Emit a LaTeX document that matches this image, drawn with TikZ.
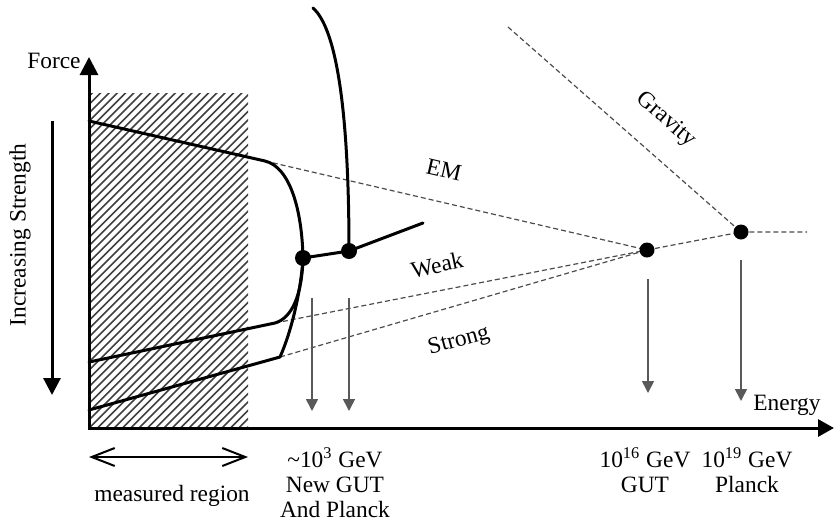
\documentclass[tikz,border=0pt]{standalone}
\usepackage{fontspec}
\setmainfont{Liberation Serif}
\usetikzlibrary{arrows.meta}

\begin{document}
\begin{tikzpicture}[x=0.5pt,y=-0.5pt,
  lbl/.style={inner sep=0pt,font=\fontsize{11.7}{12.5}\selectfont},
  curve/.style={line width=1.5pt,line join=round,line cap=round},
  extrap/.style={line width=0.6pt,black!70,dash pattern=on 2.5pt off 1.5pt},
  scaleline/.style={line width=0.8pt,black!65,-{Triangle[width=6pt,length=6pt]}},
  dot/.style={circle,fill,inner sep=0pt,minimum size=8pt}]

  \useasboundingbox (0,0) rectangle (836,521);

  % measured region
  \begin{scope}
    \clip (89,93) rectangle (248,428);
    \foreach \i in {0,...,62}
      \draw[line width=0.8pt,black!75] (89-340+\i*8.3,428) -- ++(340,-340);
  \end{scope}

  % axes
  \coordinate (O) at (89,428);
  \coordinate (ytop) at (89,57);
  \coordinate (xend) at (834,428);
  \draw[line width=1.5pt,{Triangle[width=9pt,length=9pt]}-{Triangle[width=8.5pt,length=8pt]}]
    (ytop) -- (O) -- (xend);
  \node[lbl,anchor=east] (force) at (81,61) {Force};
  \node[lbl] (energy) at (787,405) {Energy};

  \coordinate (istart) at (52,121);
  \coordinate (iend) at (52,395);
  \draw[line width=1.5pt,-{Triangle[width=8.5pt,length=8.5pt]}] (istart) -- (iend);
  \node[lbl,rotate=90] (incr) at (20,235) {Increasing Strength};

  % running couplings
  \coordinate (emA) at (89,121);
  \coordinate (emB) at (265,161);
  \coordinate (wkA) at (89,362);
  \coordinate (wkB) at (275,323);
  \coordinate (stA) at (89,410);
  \coordinate (stB) at (280,357);
  \coordinate (plow) at (303,258);
  \coordinate (pnew) at (349,251);
  \coordinate (pweak) at (423,223);
  \coordinate (ptop) at (313,8);
  \coordinate (pgut) at (647,250);
  \coordinate (pplanck) at (741,232);
  \coordinate (pend) at (807,232);
  \coordinate (pgrav) at (508,27);

  \draw[extrap] (emB) -- (pgut);
  \draw[extrap] (wkB) -- (pgut);
  \draw[extrap] (stB) -- (pgut);
  \draw[extrap] (pgut) -- (pplanck) -- (pend);
  \draw[extrap] (pgrav) -- (pplanck);

  \draw[curve] (emA) -- (emB) .. controls (290,167) and (302,210) .. (plow);
  \draw[curve] (wkA) -- (wkB) .. controls (292,318) and (302,295) .. (plow);
  \draw[curve] (stA) -- (stB) .. controls (292,330) and (301,290) .. (plow);
  \draw[curve] (plow) -- (pnew) -- (pweak);
  \draw[curve] (pnew) .. controls (349,120) and (338,30) .. (ptop);

  \node[dot] (lowdot) at (plow) {};
  \node[dot] (newdot) at (pnew) {};
  \node[dot,minimum size=7.5pt] (gutdot) at (pgut) {};
  \node[dot,minimum size=7.5pt] (pldot) at (pplanck) {};

  \node[lbl,rotate=-13] (em) at (444,170) {EM};
  \node[lbl,rotate=12] (weak) at (437,265) {Weak};
  \node[lbl,rotate=15] (strong) at (459,341) {Strong};
  \node[lbl,rotate=-41] (grav) at (666,120) {Gravity};

  % energy scales
  \foreach \n/\x/\y in {a/312/298, b/349/298, c/648/279, d/741/260} {
    \coordinate (s\n) at (\x,\y);
    \coordinate (e\n) at (\x,411);
  }
  \coordinate (ec) at (648,393);
  \coordinate (ed) at (741,401);
  \foreach \n in {a,b,c,d}
    \draw[scaleline] (s\n) -- (e\n);

  \coordinate (mrL) at (89,457);
  \coordinate (mrR) at (248,457);
  \draw[line width=1pt,{Straight Barb[width=9pt,length=11.5pt]}-{Straight Barb[width=9pt,length=11.5pt]}]
    (mrL) -- (mrR);
  \node[lbl] (mreg) at (172,496) {measured region};

  \node[lbl,align=center] (newgut) at (335,483) {\textasciitilde10\textsuperscript{3} GeV\\New GUT\\And Planck};
  \node[lbl,align=center] (gut) at (645,470) {10\textsuperscript{16} GeV\\GUT};
  \node[lbl,align=center] (planck) at (747,470) {10\textsuperscript{19} GeV\\Planck};

\end{tikzpicture}
\end{document}
